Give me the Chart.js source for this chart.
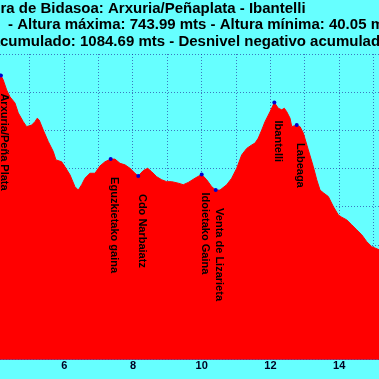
<!DOCTYPE html>
<html><head><meta charset="utf-8">
<script src="https://cdn.jsdelivr.net/npm/chart.js@4/dist/chart.umd.min.js"></script>
<style>html,body{margin:0;padding:0;background:#66FFFF;overflow:hidden}#wrap{width:379px;height:379px}</style>
</head><body><div id="wrap"><canvas id="c" width="379" height="379"></canvas></div>
<script>
const titleLines = [
  "Vera de Bidasoa: Arxuria/Peñaplata - Ibantelli",
  "- Altura máxima: 743.99 mts - Altura mínima: 40.05 mts",
  "Desnivel positivo acumulado: 1084.69 mts - Desnivel negativo acumulado"
];
const titleHiddenPrefix = ["Ve", "", "Desnivel positivo a"];

const distancesKm = [4.0,4.157,4.224,4.323,4.419,4.565,4.661,4.806,4.905,5.051,5.147,5.214,5.272,5.389,5.534,5.680,5.758,5.924,6.020,6.166,6.311,6.408,6.507,6.603,6.748,6.894,7.039,7.185,7.351,7.476,7.622,7.767,7.913,8.059,8.154,8.300,8.428,8.544,8.690,8.836,8.981,9.127,9.319,9.464,9.610,9.805,10.0,10.146,10.291,10.408,10.533,10.728,10.873,11.019,11.164,11.310,11.456,11.552,11.648,11.747,11.843,11.989,12.114,12.230,12.329,12.405,12.475,12.571,12.620,12.766,12.862,12.958,13.103,13.249,13.348,13.444,13.540,13.686,13.831,13.977,14.076,14.221,14.367,14.512,14.658,14.804,14.949,15.162,15.3];
const elevationsM = [700,744,732,706,688,672,646,623,610,614,623,632,627,601,571,545,523,518,505,484,453,444,458,475,488,488,507,518,525,525,514,510,501,488,481,495,501,492,479,471,466,466,462,458,464,475,485,471,453,444,444,458,475,501,536,553,562,567,580,601,623,649,673,658,654,658,649,632,610,614,610,593,549,505,471,444,437,427,401,379,373,366,353,340,327,309,296,288,280];

const waypointNames = ["Arxuria/Peña Plata","Eguzkietako gaina","Cdo Narbaiatz","Idoietako Gaina","Venta de Lizarieta","Ibantelli","Labeaga"];
const waypointKm = [4.157,7.351,8.154,10.0,10.408,12.114,12.766];
const waypointElev = [744,525,481,485,444,673,614];

const xMin = 4.13, xMax = 15.16;
const yMin = 0, yMax = 800, yStep = 100;
const xGridValues = [5,6,7,8,9,10,11,12,13,14,15];
const xLabelValues = [6,8,10,12,14];

const profile = distancesKm.map((d,i)=>({x:d,y:elevationsM[i]}));
const marks = waypointKm.map((d,i)=>({x:d,y:waypointElev[i]}));

const titlePlugin = {
  id:'titleLines',
  afterDraw(chart){
    const ctx = chart.ctx;
    ctx.save();
    ctx.font = 'bold 15px "Liberation Sans", Arial, sans-serif';
    ctx.fillStyle = '#000000';
    ctx.textAlign = 'left';
    ctx.textBaseline = 'alphabetic';
    const anchors = [0.5, 8, 0];
    const baselines = [12.5, 29, 45.5];
    titleLines.forEach((t,i)=>{
      const x = anchors[i] - ctx.measureText(titleHiddenPrefix[i]).width;
      ctx.fillText(t, x, baselines[i]);
    });
    ctx.restore();
  }
};
const labelPlugin = {
  id:'wpLabels',
  afterDraw(chart){
    const ctx = chart.ctx, xs = chart.scales.x, ys = chart.scales.y;
    ctx.save();
    ctx.font = 'bold 11px "Liberation Sans", Arial, sans-serif';
    ctx.fillStyle = '#000000';
    ctx.textAlign = 'left';
    ctx.textBaseline = 'middle';
    waypointNames.forEach((n,i)=>{
      const px = xs.getPixelForValue(waypointKm[i]);
      const py = ys.getPixelForValue(waypointElev[i]);
      ctx.save();
      ctx.translate(px+3.5, py+18);
      ctx.rotate(Math.PI/2);
      ctx.fillText(n,0,0);
      ctx.restore();
    });
    ctx.restore();
  }
};

const gridColor = 'rgba(30,30,150,0.6)';
new Chart(document.getElementById('c'), {
  type:'line',
  data:{datasets:[
    {data:profile, fill:'origin', backgroundColor:'#FF0000', borderColor:'#FF0000', borderWidth:1, pointRadius:0, tension:0, order:2},
    {data:marks, showLine:false, pointRadius:2, pointBackgroundColor:'#0000CC', pointBorderColor:'#0000CC', borderWidth:0, order:1}
  ]},
  options:{
    responsive:false, animation:false, devicePixelRatio:1,
    layout:{autoPadding:false, padding:{top:54,left:0,right:0,bottom:6}},
    plugins:{legend:{display:false}, tooltip:{enabled:false}, title:{display:false}},
    scales:{
      x:{type:'linear', min:xMin, max:xMax, z:1,
        afterBuildTicks:(s)=>{ s.ticks = xGridValues.map(v=>({value:v})); },
        ticks:{padding:0, color:'#000022', font:{family:'"Liberation Sans", Arial, sans-serif', size:11, weight:'bold'},
          autoSkip:false, maxRotation:0,
          callback:(v)=> xLabelValues.includes(v) ? String(v) : ''},
        grid:{color:gridColor, lineWidth:1, drawTicks:false},
        border:{display:true, color:'rgba(80,40,140,0.7)', dash:[1,2]}
      },
      y:{type:'linear', min:yMin, max:yMax, z:1,
        ticks:{display:false, stepSize:yStep},
        grid:{color:gridColor, lineWidth:1, drawTicks:false},
        border:{display:false, dash:[1,2]}
      }
    }
  },
  plugins:[titlePlugin, labelPlugin]
});
</script>
</body></html>
